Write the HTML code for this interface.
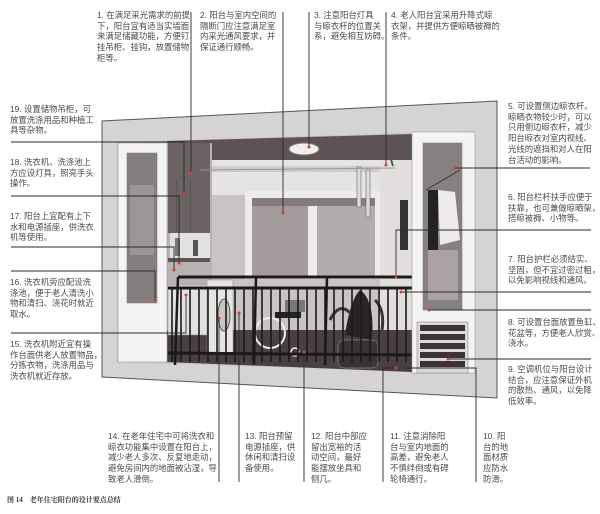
<!DOCTYPE html>
<html><head><meta charset="utf-8"><style>
html,body{margin:0;padding:0;background:#fff;}
body{width:600px;height:514px;position:relative;overflow:hidden;font-family:"Liberation Sans","Noto Sans CJK SC",sans-serif;}
.t{position:absolute;font-size:8.4px;line-height:10.7px;color:#4a4a4a;white-space:nowrap;}
svg{position:absolute;left:0;top:0;}
.cap{position:absolute;left:7px;top:495px;font-size:7px;color:#333;font-family:"Liberation Serif","Noto Serif CJK SC",serif;font-weight:bold;white-space:nowrap;}
</style></head><body>
<svg width="600" height="514" viewBox="0 0 600 514">
<polygon points="102,121 497,101 497,398 102,377" fill="#d6d3d3" stroke="#555" stroke-width="1"/>
<polygon points="117,142 475,131 475,373 117,362" fill="#c9c3c4"/>
<polygon points="167,141 412,134 412,160 167,160" fill="#5d5357"/>
<rect x="167" y="160" width="245" height="35" fill="#e6e3e3"/>
<rect x="200" y="166" width="190" height="6" fill="#d0cbcb"/>
<rect x="167" y="143" width="45" height="220" fill="#b9b2b3"/>
<rect x="168" y="143" width="42" height="90" fill="#6b6264"/>
<rect x="176" y="180" width="1" height="52" fill="#555"/>
<rect x="190" y="180" width="1" height="52" fill="#555"/>
<rect x="170" y="233" width="40" height="25" fill="#e3e0e0"/>
<rect x="168" y="258" width="42" height="4" fill="#5c5456"/>
<rect x="245" y="191" width="137" height="88" fill="#eeebeb"/>
<rect x="252" y="198" width="56" height="80" fill="#a39b9c"/>
<rect x="317" y="198" width="58" height="80" fill="#b3acad"/>
<rect x="252" y="198" width="123" height="8" fill="#857b7c"/>
<rect x="380" y="160" width="32" height="175" fill="#e2dede"/>
<rect x="357" y="167" width="4" height="40" fill="#ddd" stroke="#666" stroke-width="0.6"/>
<rect x="366" y="170" width="4" height="47" fill="#ddd" stroke="#666" stroke-width="0.6"/>
<line x1="200" y1="170" x2="395" y2="168" stroke="#999" stroke-width="1"/>
<line x1="385" y1="140" x2="393" y2="166" stroke="#555" stroke-width="2"/>
<rect x="400" y="200" width="8" height="50" fill="#333"/>
<ellipse cx="304" cy="149" rx="15" ry="6" fill="#f1eeee" stroke="#777"/>
<polygon points="167,330 412,330 412,372 167,362" fill="#4a4043"/>
<rect x="168" y="285" width="40" height="50" fill="#e3e0e0" stroke="#888" stroke-width="0.5"/>
<rect x="207" y="280" width="26" height="73" fill="#e6e3e3" stroke="#888" stroke-width="0.5"/>
<ellipse cx="224" cy="315" rx="6" ry="16" fill="#c9c3c4" stroke="#555"/>
<circle cx="270" cy="333" r="15" fill="none" stroke="#eee" stroke-width="2"/>
<circle cx="295" cy="352" r="4" fill="none" stroke="#eee" stroke-width="1.5"/>
<rect x="275" y="312" width="26" height="6" fill="#222"/>
<rect x="285" y="300" width="20" height="12" fill="#777"/>
<path d="M345,335 Q350,300 360,290 Q375,300 372,340 Z" fill="#2b2426"/>
<path d="M330,320 Q340,300 352,315 M375,300 Q385,310 382,330" stroke="#3a3234" stroke-width="3" fill="none"/>
<rect x="338" y="340" width="40" height="28" rx="6" fill="#3a3234" stroke="#aaa" stroke-width="0.5"/>
<rect x="175" y="238" width="5" height="18" fill="#777"/>
<rect x="193" y="240" width="5" height="16" fill="#555"/>
<g stroke="#1a1a1a">
<line x1="178" y1="277" x2="412" y2="277" stroke-width="3"/>
<line x1="168" y1="288" x2="412" y2="288" stroke-width="3"/>
<line x1="168" y1="353" x2="412" y2="355" stroke-width="3"/>
<g stroke-width="1.6">
<line x1="172" y1="288" x2="172" y2="362"/><line x1="181" y1="288" x2="181" y2="362"/><line x1="190" y1="288" x2="190" y2="362"/><line x1="199" y1="288" x2="199" y2="362"/><line x1="208" y1="288" x2="208" y2="362"/><line x1="217" y1="288" x2="217" y2="362"/><line x1="226" y1="288" x2="226" y2="362"/><line x1="235" y1="288" x2="235" y2="362"/><line x1="244" y1="288" x2="244" y2="362"/><line x1="253" y1="288" x2="253" y2="362"/><line x1="262" y1="288" x2="262" y2="362"/><line x1="271" y1="288" x2="271" y2="362"/><line x1="280" y1="288" x2="280" y2="362"/><line x1="289" y1="288" x2="289" y2="362"/><line x1="298" y1="288" x2="298" y2="362"/><line x1="307" y1="288" x2="307" y2="362"/><line x1="316" y1="288" x2="316" y2="362"/><line x1="325" y1="288" x2="325" y2="362"/><line x1="334" y1="288" x2="334" y2="362"/><line x1="343" y1="288" x2="343" y2="362"/><line x1="352" y1="288" x2="352" y2="362"/><line x1="361" y1="288" x2="361" y2="362"/><line x1="370" y1="288" x2="370" y2="362"/><line x1="379" y1="288" x2="379" y2="362"/><line x1="388" y1="288" x2="388" y2="362"/><line x1="397" y1="288" x2="397" y2="362"/><line x1="406" y1="288" x2="406" y2="362"/>
<line x1="178" y1="277" x2="175" y2="365" stroke-width="2.5"/><line x1="256" y1="277" x2="254" y2="365" stroke-width="2.5"/><line x1="327" y1="277" x2="325" y2="365" stroke-width="2.5"/>
</g></g>
<rect x="118" y="143" width="49" height="219" fill="#f5f4f4" stroke="#999" stroke-width="0.6"/>
<rect x="126" y="152" width="32" height="152" fill="#857e7f" stroke="#eee" stroke-width="1.5"/>
<rect x="130" y="185" width="24" height="70" fill="#9d9697"/>
<rect x="412" y="132" width="63" height="241" fill="#f5f4f4" stroke="#999" stroke-width="0.6"/>
<rect x="422" y="142" width="41" height="169" fill="#878081" stroke="#eee" stroke-width="1.5"/>
<line x1="426" y1="190" x2="460" y2="170" stroke="#333" stroke-width="1"/>
<rect x="428" y="190" width="10" height="60" fill="#222"/>
<path d="M438,190 L455,192 L460,240 L440,245 Z" fill="#eeeaea"/>
<rect x="428" y="250" width="30" height="50" fill="#aaa2a4"/>
<rect x="417" y="322" width="51" height="51" fill="#dcd8d8" stroke="#777" stroke-width="0.5"/>
<g fill="#3b3335"><rect x="420" y="325" width="45" height="6"/><rect x="420" y="334" width="45" height="6"/><rect x="420" y="343" width="45" height="6"/><rect x="420" y="352" width="45" height="6"/><rect x="420" y="361" width="45" height="6"/></g>
<g stroke="#2a2a2a" stroke-width="0.9" fill="none">
<polyline points="191,12 191,173"/>
<polyline points="283,12 283,213"/>
<polyline points="309,12 309,147"/>
<polyline points="386,12 386,165"/>
<polyline points="11,142 184,142 184,193"/>
<polyline points="11,196 179,196 179,263"/>
<polyline points="11,247 174,247 174,270"/>
<polyline points="11,271 155,271 155,300"/>
<polyline points="11,333 186,333 186,295"/>
<polyline points="590,168 455,168"/>
<polyline points="591,230 396,230 396,277"/>
<polyline points="591,292 401,292"/>
<polyline points="591,310 429,310"/>
<polyline points="591,359 448,359"/>
<polyline points="219,482 219,318"/>
<polyline points="239,482 239,313"/>
<polyline points="304,482 304,352"/>
<polyline points="383,482 383,368 396,368"/>
<polyline points="476,482 476,368 402,368"/>
</g>
<g fill="#d0402a">
<circle cx="191" cy="173" r="1.5"/><circle cx="283" cy="213" r="1.5"/><circle cx="309" cy="147" r="1.5"/><circle cx="386" cy="165" r="1.5"/>
<circle cx="184" cy="193" r="1.5"/><circle cx="179" cy="263" r="1.5"/><circle cx="174" cy="270" r="1.5"/><circle cx="155" cy="300" r="1.5"/><circle cx="186" cy="295" r="1.5"/>
<circle cx="455" cy="168" r="1.5"/><circle cx="396" cy="277" r="1.5"/><circle cx="401" cy="292" r="1.5"/><circle cx="429" cy="310" r="1.5"/><circle cx="448" cy="359" r="1.5"/>
<circle cx="219" cy="318" r="1.5"/><circle cx="239" cy="313" r="1.5"/><circle cx="304" cy="352" r="1.5"/><circle cx="396" cy="368" r="1.5"/>
</g>
</svg>

<div class="t" style="left:97px;top:10px">1. 在满足采光需求的前提<br>下，阳台宜有适当实墙面<br>来满足储藏功能，方便钉<br>挂吊柜、挂钩，放置储物<br>柜等。</div>
<div class="t" style="left:200px;top:10px">2. 阳台与室内空间的<br>隔断门应注意满足室<br>内采光通风要求，并<br>保证通行顺畅。</div>
<div class="t" style="left:314px;top:10px">3. 注意阳台灯具<br>与晾衣杆的位置关<br>系，避免相互妨碍。</div>
<div class="t" style="left:391px;top:10px">4. 老人阳台宜采用升降式晾<br>衣架，并提供方便晾晒被褥的<br>条件。</div>

<div class="t" style="left:10px;top:104px">19. 设置储物吊柜，可<br>放置洗涤用品和种植工<br>具等杂物。</div>
<div class="t" style="left:10px;top:157px">18. 洗衣机、洗涤池上<br>方应设灯具，照亮手头<br>操作。</div>
<div class="t" style="left:10px;top:211px">17. 阳台上宜配有上下<br>水和电源插座，供洗衣<br>机等使用。</div>
<div class="t" style="left:10px;top:277px">16. 洗衣机旁应配设洗<br>涤池，便于老人清洗小<br>物和清扫、浇花时就近<br>取水。</div>
<div class="t" style="left:10px;top:339px">15. 洗衣机附近宜有操<br>作台面供老人放置物品，<br>分拣衣物，洗涤用品与<br>洗衣机就近存放。</div>

<div class="t" style="left:508px;top:101px">5. 可设置侧边晾衣杆。<br>晾晒衣物较少时，可以<br>只用侧边晾衣杆，减少<br>阳台晾衣对室内视线、<br>光线的遮挡和对人在阳<br>台活动的影响。</div>
<div class="t" style="left:508px;top:192px">6. 阳台栏杆扶手应便于<br>扶靠，也可兼做晾晒架，<br>搭晾被褥、小物等。</div>
<div class="t" style="left:508px;top:254px">7. 阳台护栏必须结实、<br>坚固，但不宜过密过粗，<br>以免影响视线和通风。</div>
<div class="t" style="left:508px;top:317px">8. 可设置台面放置鱼缸、<br>花盆等，方便老人欣赏、<br>浇水。</div>
<div class="t" style="left:508px;top:364px">9. 空调机位与阳台设计<br>结合，应注意保证外机<br>的散热、通风，以免降<br>低效率。</div>

<div class="t" style="left:108px;top:431px">14. 在老年住宅中可将洗衣和<br>晾衣功能集中设置在阳台上，<br>减少老人多次、反复地走动，<br>避免房间内的地面被沾湿，导<br>致老人滑倒。</div>
<div class="t" style="left:245px;top:431px">13. 阳台预留<br>电源插座，供<br>休闲和清扫设<br>备使用。</div>
<div class="t" style="left:311px;top:431px">12. 阳台中部应<br>留出宽裕的活<br>动空间，最好<br>能摆放坐具和<br>侧几。</div>
<div class="t" style="left:390px;top:431px">11. 注意消除阳<br>台与室内地面的<br>高差，避免老人<br>不慎绊倒或有碍<br>轮椅通行。</div>
<div class="t" style="left:483px;top:431px">10. 阳<br>台的地<br>面材质<br>应防水<br>防滑。</div>

<div class="cap">图 14　老年住宅阳台的设计要点总结</div>
</body></html>
